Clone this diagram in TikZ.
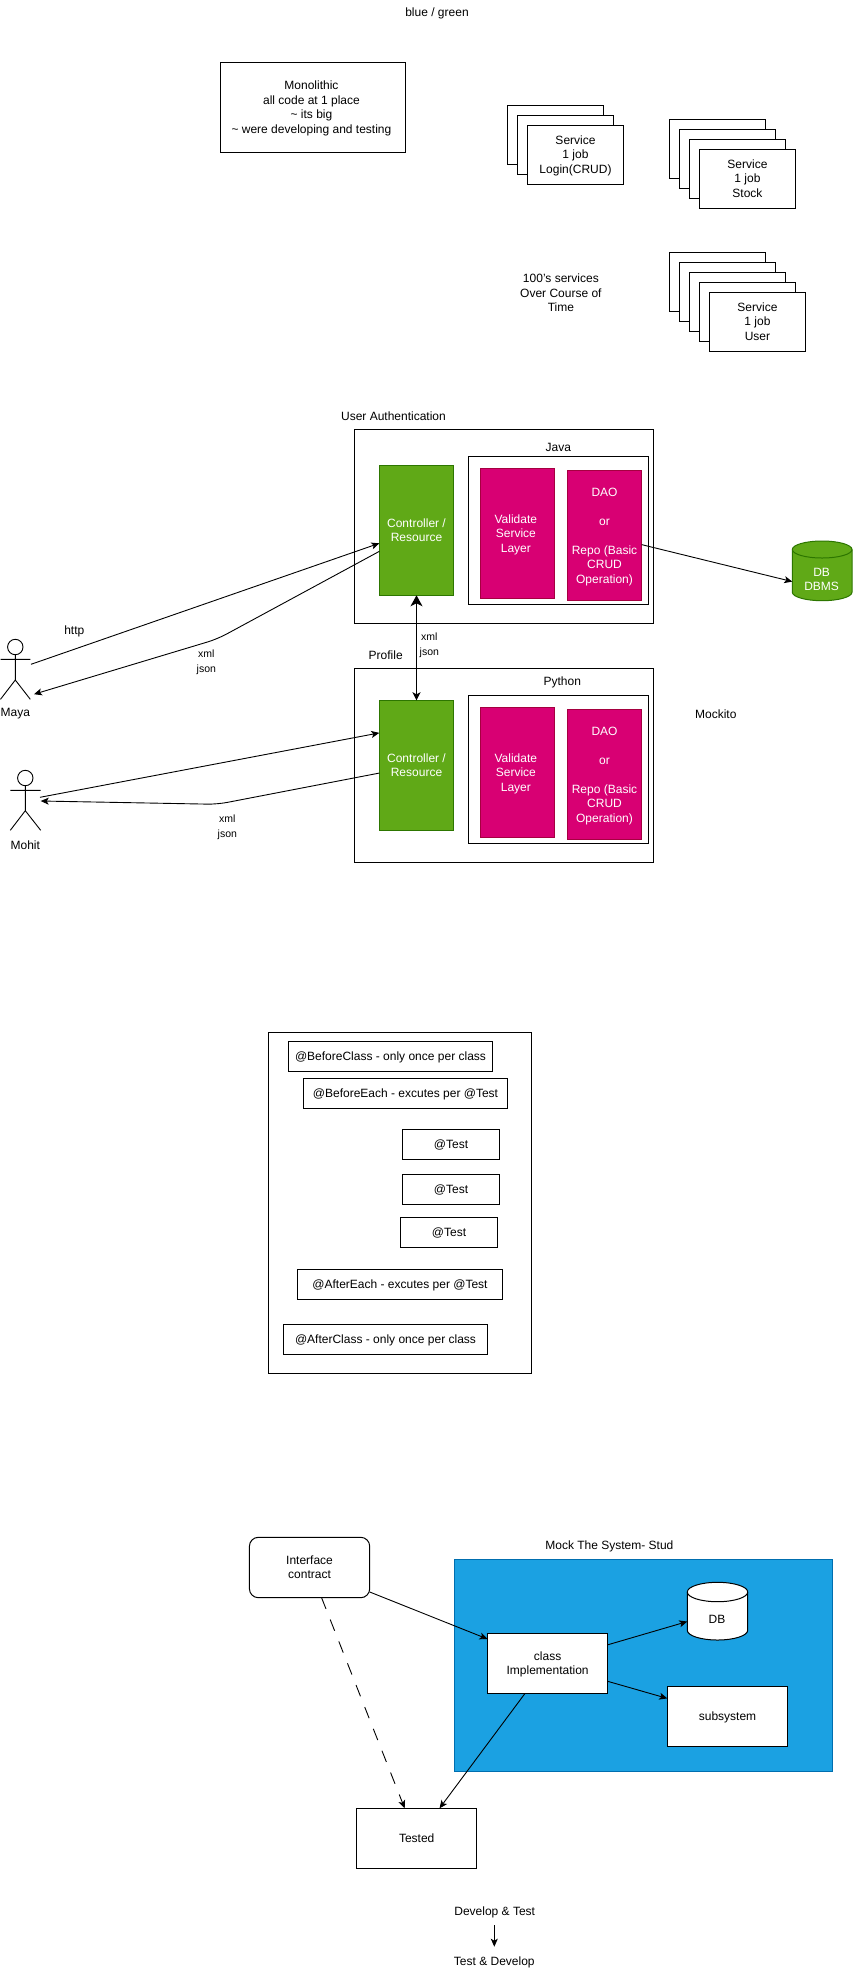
\documentclass[tikz,border=0pt]{standalone}
\usepackage{fontspec}
\setmainfont{Liberation Sans}
\usetikzlibrary{arrows.meta,calc,shapes.geometric}
\tikzset{
  txt/.style={align=center,inner sep=0pt,outer sep=0pt,font=\fontsize{12}{14.5}\selectfont},
  free/.style={txt,yshift=-1pt},
  small/.style={free,font=\fontsize{10.5}{14.2}\selectfont},
  plainbox/.style={txt,draw=black,fill=white,line width=1pt},
  roundbox/.style={plainbox,rounded corners=9pt},
  greenbox/.style={txt,draw=greenline,fill=greenfill,text=white,line width=1pt},
  pinkbox/.style={txt,draw=pinkline,fill=pinkfill,text=white,line width=1pt},
  bluebox/.style={txt,draw=blueline,fill=bluefill,line width=1pt},
  ghost/.style={txt},
  conn/.style={draw=black,line width=.9pt,-{Stealth[length=8pt,width=7pt,inset=2pt]}},
  limb/.style={draw=black,line width=.9pt},
  head/.style={draw=black,line width=.9pt,ellipse,inner sep=0pt,minimum width=15.4pt,minimum height=15.4pt},
}
\definecolor{greenfill}{HTML}{60A917}
\definecolor{greenline}{HTML}{2D7600}
\definecolor{pinkfill}{HTML}{D80073}
\definecolor{pinkline}{HTML}{A50040}
\definecolor{bluefill}{HTML}{1BA1E2}
\definecolor{blueline}{HTML}{006EAF}
\newcommand{\bx}[7]{%
  \pgfmathsetmacro{\bxw}{#4-(#2)}\pgfmathsetmacro{\bxh}{#5-(#3)}%
  \pgfmathsetmacro{\bxx}{(#2+#4)/2}\pgfmathsetmacro{\bxy}{(#3+#5)/2}%
  \node[#6,minimum width=\bxw pt,minimum height=\bxh pt] (#1) at (\bxx,\bxy)
    {\raisebox{-1.2pt}[\height][\depth]{\begin{tabular}{@{}c@{}}#7\end{tabular}}};}
\newcommand{\cyl}[8]{% name x1 y1 x2 y2 ry fill stroke
  \pgfmathsetmacro{\cxm}{(#2+#4)/2}\pgfmathsetmacro{\cka}{(#4-#2)/2*0.5523}%
  \pgfmathsetmacro{\ckb}{#6*0.5523}%
  \pgfmathsetmacro{\cxa}{\cxm-\cka}\pgfmathsetmacro{\cxb}{\cxm+\cka}%
  \pgfmathsetmacro{\cyt}{#3+#6}\pgfmathsetmacro{\cyb}{#5-#6}%
  \pgfmathsetmacro{\cyu}{\cyt-\ckb}\pgfmathsetmacro{\cyv}{\cyt+\ckb}%
  \pgfmathsetmacro{\cyw}{\cyb+\ckb}\pgfmathsetmacro{\cye}{\cyt+#6}%
  \path[fill=#7,draw=#8,line width=1pt] (#2,\cyt) .. controls (#2,\cyu) and (\cxa,#3) .. (\cxm,#3)
    .. controls (\cxb,#3) and (#4,\cyu) .. (#4,\cyt) -- (#4,\cyb)
    .. controls (#4,\cyw) and (\cxb,#5) .. (\cxm,#5)
    .. controls (\cxa,#5) and (#2,\cyw) .. (#2,\cyb) -- cycle;
  \path[draw=#8,line width=1pt] (#2,\cyt) .. controls (#2,\cyv) and (\cxa,\cye) .. (\cxm,\cye)
    .. controls (\cxb,\cye) and (#4,\cyv) .. (#4,\cyt);
  \pgfmathsetmacro{\bxw}{#4-(#2)}\pgfmathsetmacro{\bxh}{#5-(#3)}%
  \pgfmathsetmacro{\bxx}{(#2+#4)/2}\pgfmathsetmacro{\bxy}{(#3+#5)/2}%
  \node[ghost,minimum width=\bxw pt,minimum height=\bxh pt] (#1) at (\bxx,\bxy) {};}
\begin{document}
\begin{tikzpicture}[x=1pt,y=-1pt]
\path[fill=white,use as bounding box] (0,0) rectangle (852,1979);

% --- top section
\node[free] (bg) at (437,12.7) {blue / green};
\bx{mono}{220.5}{62.3}{405.4}{152.3}{plainbox}{\kern-3pt\begin{tabular}{@{}c@{}}Monolithic\\all code at 1 place\\\textasciitilde{} its big\\\textasciitilde{} were developing and testing\end{tabular}}

\bx{la}{507.3}{105.3}{603.7}{164.3}{plainbox}{}
\bx{lb}{517.3}{115.3}{613.7}{174.3}{plainbox}{}
\bx{lc}{527.3}{125.3}{623.7}{184.3}{plainbox}{Service\\1 job\\Login(CRUD)}

\bx{sa}{669.4}{119.3}{765.5}{178.3}{plainbox}{}
\bx{sb}{679.4}{129.3}{775.5}{188.3}{plainbox}{}
\bx{sc}{689.4}{139.3}{785.5}{198.3}{plainbox}{}
\bx{sd}{699.4}{149.3}{795.5}{208.3}{plainbox}{Service\\1 job\\Stock}

\node[free] (hundred) at (560.9,292) {100's services\\Over Course of\\Time};
\bx{ua}{669.4}{252.3}{765.5}{311.3}{plainbox}{}
\bx{ub}{679.4}{262.3}{775.5}{321.3}{plainbox}{}
\bx{uc}{689.4}{272.3}{785.5}{331.3}{plainbox}{}
\bx{ud}{699.4}{282.3}{795.5}{341.3}{plainbox}{}
\bx{ue}{709.4}{292.3}{805.5}{351.3}{plainbox}{Service\\1 job\\User}

% --- middle section
\node[free] (uauth) at (393.5,415.7) {User Authentication};
\bx{jout}{354.3}{429.3}{653.7}{623.3}{plainbox}{}
\node[free] (java) at (558.3,446.7) {Java};
\bx{jin}{468.3}{456.3}{648.7}{604.3}{plainbox}{}
\bx{ctrlj}{379.3}{465.3}{453.7}{595.3}{greenbox}{Controller /\\Resource}
\bx{valj}{480}{468.3}{554.7}{598.7}{pinkbox}{\kern-3pt\begin{tabular}{@{}c@{}}Validate\\Service\\Layer\end{tabular}}
\bx{daoj}{567.3}{470.3}{641.7}{600.7}{pinkbox}{DAO\\[14.5pt]or\\[14.5pt]Repo (Basic\\CRUD\\Operation)}
\cyl{dbm}{792.3}{541}{852}{600.7}{8.5}{greenfill}{greenline}
\node[free,text=white] (dbmt) at (821.6,578.2) {DB\\DBMS};

\node[free] (profile) at (385.7,653.7) {Profile};
\bx{pout}{354.3}{668.3}{653.7}{862.3}{plainbox}{}
\node[free] (python) at (562.3,681.7) {Python};
\bx{pin}{468.3}{695.3}{648.7}{843.3}{plainbox}{}
\bx{ctrlp}{379.3}{700.3}{453.7}{830.7}{greenbox}{Controller /\\Resource}
\bx{valp}{480}{707.3}{554.7}{837.7}{pinkbox}{\kern-3pt\begin{tabular}{@{}c@{}}Validate\\Service\\Layer\end{tabular}}
\bx{daop}{567.3}{709.3}{641.7}{839.7}{pinkbox}{DAO\\[14.5pt]or\\[14.5pt]Repo (Basic\\CRUD\\Operation)}
\node[free] (mockito) at (715.8,712.7) {Mockito};

\node[free] (http) at (74.3,630.7) {http};
\node[small] (xa) at (206.3,661.3) {xml\\json};
\node[small] (xb) at (429.3,644.3) {xml\\json};
\node[small] (xc) at (227.3,826.3) {xml\\json};

% actors
\node[head] (mayah) at (15.3,647) {};
\coordinate (mayaarml) at (0.5,659.3);
\coordinate (mayaarmr) at (30.3,659.3);
\coordinate (mayahip) at (15.3,680);
\coordinate (mayafl) at (0.5,699.3);
\coordinate (mayafr) at (30.3,699.3);
\draw[limb] (mayah.south) -- (mayahip) -- (mayafl) (mayahip) -- (mayafr) (mayaarml) -- (mayaarmr);
\node[free] (mayal) at (15.3,713) {Maya};

\node[head] (mohh) at (25.3,778) {};
\coordinate (moharml) at (10.3,790.3);
\coordinate (moharmr) at (40.7,790.3);
\coordinate (mohhip) at (25.3,810.7);
\coordinate (mohfl) at (10.3,830.3);
\coordinate (mohfr) at (40.7,830.3);
\draw[limb] (mohh.south) -- (mohhip) -- (mohfl) (mohhip) -- (mohfr) (moharml) -- (moharmr);
\node[free] (mohl) at (25.3,843.7) {Mohit};

% connectors
\coordinate (mayaout) at (31,664.3);
\coordinate (mayain) at (34,694.2);
\coordinate (mayabend) at (217.4,639);
\coordinate (mohout) at (40,797.3);
\coordinate (mohin) at (40.7,801);
\coordinate (mohbend) at (217.4,804.3);
\draw[conn] (mayaout) -- ($(ctrlj.north west)!.6!(ctrlj.south west)$);
\draw[conn,rounded corners=10pt] ($(ctrlj.north west)!.662!(ctrlj.south west)$) -- (mayabend) -- (mayain);
\draw[conn] (mohout) -- ($(ctrlp.north west)!.25!(ctrlp.south west)$);
\draw[conn,rounded corners=10pt] ($(ctrlp.north west)!.558!(ctrlp.south west)$) -- (mohbend) -- (mohin);
\draw[draw=black,line width=1.6pt,{Stealth[length=11pt,width=12pt,inset=3pt]}-{Stealth[length=8pt,width=8pt,inset=2pt]}] (ctrlj.south) -- (ctrlp.north);
\draw[conn] ($(daoj.north east)!.57!(daoj.south east)$) -- ($(dbm.north west)!.68!(dbm.south west)$);

% --- lifecycle section
\bx{lco}{268.3}{1032.7}{531.7}{1373.3}{plainbox}{}
\bx{bc}{288.3}{1041.3}{492.7}{1071.7}{plainbox}{@BeforeClass - only once per class}
\bx{be}{303.3}{1078.3}{507.7}{1108.3}{plainbox}{@BeforeEach - excutes per @Test}
\bx{ta}{402.3}{1129.3}{499.7}{1159.3}{plainbox}{@Test}
\bx{tb}{402.3}{1174.3}{499.7}{1204.3}{plainbox}{@Test}
\bx{tc}{400.3}{1217.3}{497.7}{1247.3}{plainbox}{@Test}
\bx{ae}{297.7}{1269.3}{502.3}{1299.3}{plainbox}{@AfterEach - excutes per @Test}
\bx{ac}{283.3}{1324.3}{487.7}{1354.3}{plainbox}{@AfterClass - only once per class}

% --- mock section
\bx{iface}{249.4}{1537.3}{369.7}{1597.7}{roundbox}{Interface\\contract}
\node[free] (mock) at (609.4,1545.7) {Mock The System- Stud};
\bx{blue}{454.6}{1559.3}{832.7}{1771.7}{bluebox}{}
\bx{cls}{487.5}{1633.3}{607.8}{1693.7}{plainbox}{class\\Implementation}
\cyl{dbs}{687.3}{1582.3}{747.7}{1640}{9.7}{white}{black}
\node[free] (dbst) at (717,1618.7) {DB};
\bx{subs}{667.3}{1686.3}{787.7}{1746.7}{plainbox}{subsystem}
\bx{tested}{356.6}{1808.3}{476.8}{1868.7}{plainbox}{Tested}

\draw[conn] ($(iface.north east)!.905!(iface.south east)$) -- ($(cls.north west)!.094!(cls.south west)$);
\draw[conn] ($(cls.north east)!.19!(cls.south east)$) -- ($(dbs.north west)!.68!(dbs.south west)$);
\draw[conn] ($(cls.north east)!.795!(cls.south east)$) -- ($(subs.north west)!.2!(subs.south west)$);
\draw[conn] ($(cls.south west)!.31!(cls.south east)$) -- ($(tested.north west)!.69!(tested.north east)$);
\draw[conn,dash pattern=on 12pt off 11.5pt] ($(iface.south west)!.6!(iface.south east)$) -- ($(tested.north west)!.4!(tested.north east)$);

\node[free] (dt) at (494.7,1911.7) {Develop \& Test};
\node[free] (td) at (494.3,1961.7) {Test \& Develop};
\coordinate (dta) at (494.3,1925);
\coordinate (tdb) at (494.3,1946.7);
\draw[conn] (dta) -- (tdb);
\end{tikzpicture}
\end{document}
